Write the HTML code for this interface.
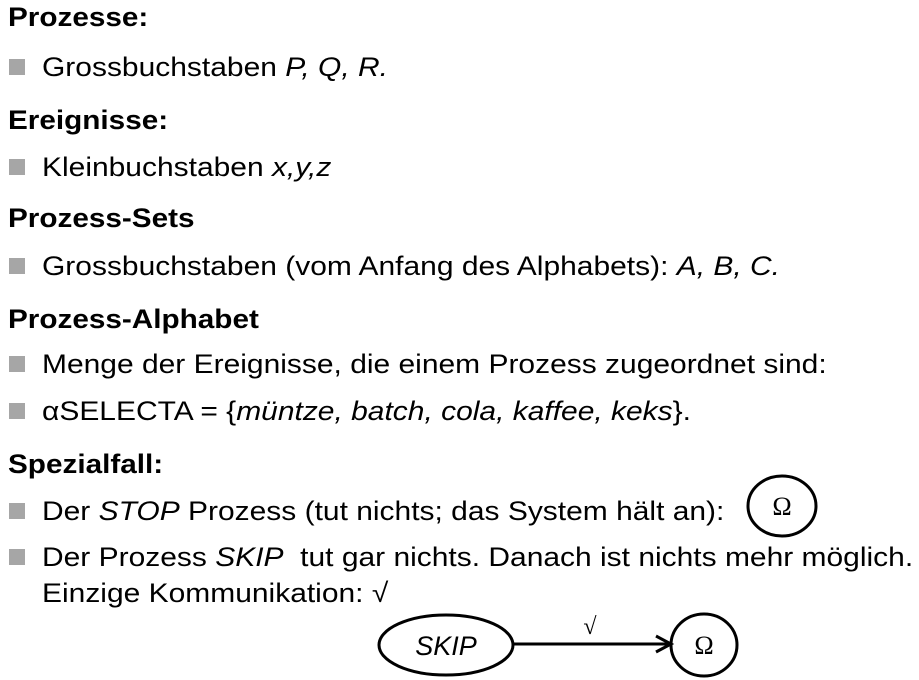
<!DOCTYPE html>
<html><head><meta charset="utf-8"><style>
body{margin:0;width:919px;height:680px;background:#fff;position:relative;overflow:hidden;font-family:"Liberation Sans",Arial,sans-serif;color:#000}
.t{position:absolute;left:8px;font-size:27px;line-height:30px;white-space:nowrap;transform:scaleX(1.11);transform-origin:0 50%}
.h{font-weight:bold;transform:scaleX(1.1)}
.b{left:42px}
.sq{position:absolute;left:9px;width:16px;height:16px;background:#a6a6a6}
i{font-style:italic}
</style></head><body>
<div class="t h" style="top:2px">Prozesse:</div>
<div class="sq" style="top:59px"></div><div class="t b" style="top:52px">Grossbuchstaben <i>P, Q, R.</i></div>
<div class="t h" style="top:105px">Ereignisse:</div>
<div class="sq" style="top:159px"></div><div class="t b" style="top:152px">Kleinbuchstaben <i>x,y,z</i></div>
<div class="t h" style="top:203px">Prozess-Sets</div>
<div class="sq" style="top:258px"></div><div class="t b" style="top:251px">Grossbuchstaben (vom Anfang des Alphabets): <i>A, B, C.</i></div>
<div class="t h" style="top:304px">Prozess-Alphabet</div>
<div class="sq" style="top:356px"></div><div class="t b" style="top:349px">Menge der Ereignisse, die einem Prozess zugeordnet sind:</div>
<div class="sq" style="top:403px"></div><div class="t b" style="top:396px">αSELECTA = {<i>müntze, batch, cola, kaffee, keks</i>}.</div>
<div class="t h" style="top:449px">Spezialfall:</div>
<div class="sq" style="top:503px"></div><div class="t b" style="top:496px">Der <i>STOP</i> Prozess (tut nichts; das System hält an):</div>
<div class="sq" style="top:549px"></div><div class="t b" style="top:542px">Der Prozess <i>SKIP</i>&nbsp; tut gar nichts. Danach ist nichts mehr möglich.</div>
<div class="t b" style="top:578px">Einzige Kommunikation: √</div>
<svg width="919" height="680" style="position:absolute;left:0;top:0">
<ellipse cx="782" cy="506" rx="34" ry="30" fill="none" stroke="#000" stroke-width="3"/>
<text x="782" y="515" font-family="Liberation Serif,serif" font-size="26" text-anchor="middle">Ω</text>
<ellipse cx="446" cy="645" rx="67" ry="30" fill="none" stroke="#000" stroke-width="3"/>
<text x="446" y="655" font-family="Liberation Sans,sans-serif" font-style="italic" font-size="27" text-anchor="middle">SKIP</text>
<ellipse cx="704" cy="645" rx="33" ry="31" fill="none" stroke="#000" stroke-width="3"/>
<text x="704" y="654" font-family="Liberation Serif,serif" font-size="26" text-anchor="middle">Ω</text>
<line x1="513" y1="644" x2="668" y2="644" stroke="#000" stroke-width="3"/>
<path d="M656 636 L671 644 L656 652" fill="none" stroke="#000" stroke-width="3"/>
<text x="590" y="634" font-family="Liberation Serif,serif" font-size="24" text-anchor="middle">√</text>
</svg>
</body></html>
